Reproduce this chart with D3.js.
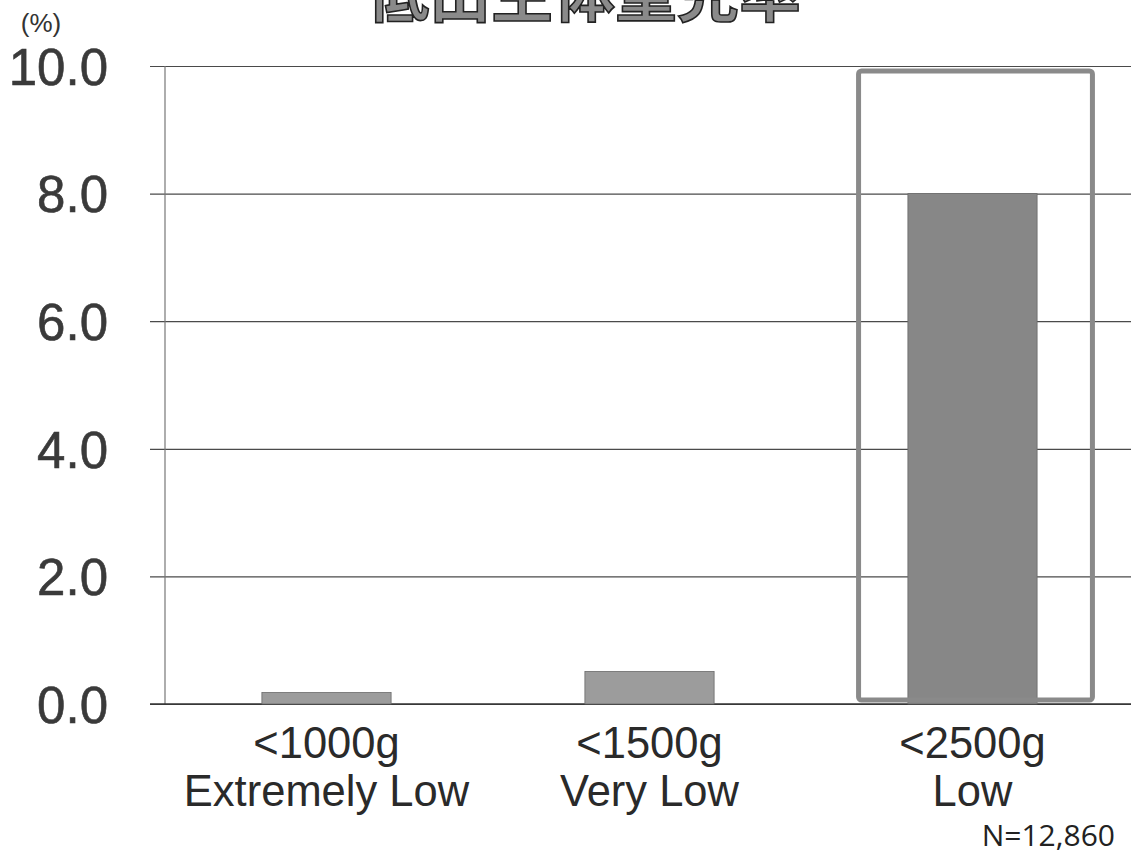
<!DOCTYPE html>
<html>
<head>
<meta charset="utf-8">
<script src="https://cdn.jsdelivr.net/npm/d3@7"></script>
<style>
  html, body { margin: 0; padding: 0; background: #fff; }
  svg { display: block; }
</style>
</head>
<body>
<svg id="chart" width="1131" height="856"></svg>
<script>
// Low birth weight rates by weight class (%)
const categories = ["<1000g", "<1500g", "<2500g"];
const classNames = ["Extremely Low", "Very Low", "Low"];
const rates = [0.18, 0.51, 8.0];
const yTicks = [0, 2, 4, 6, 8, 10];
const highlighted = "<2500g";
const title = "低出生体重児率";
const unitLabel = "(%)";
const sampleNote = "N=12,860";

const svg = d3.select("#chart");

const x = d3.scaleBand()
  .domain(categories)
  .range([165, 1134])
  .paddingInner(0.6)
  .paddingOuter(0.3);

const y = d3.scaleLinear()
  .domain([0, 10])
  .range([704, 66]);

// Title (runs off the top edge)
svg.append("text")
  .attr("x", 584)
  .attr("y", 17)
  .attr("text-anchor", "middle")
  .attr("font-family", "'Noto Sans CJK JP', sans-serif")
  .attr("font-weight", "bold")
  .attr("font-size", 62)
  .attr("fill", "#8a8a8a")
  .attr("stroke", "#222")
  .attr("stroke-width", 1.6)
  .text(title);

// Unit label
svg.append("text")
  .attr("x", 41)
  .attr("y", 32)
  .attr("text-anchor", "middle")
  .attr("font-family", "'Liberation Sans', Arial, sans-serif")
  .attr("font-size", 26)
  .attr("fill", "#333")
  .text(unitLabel);

// Gridlines with outward ticks
const yAxis = d3.axisLeft(y)
  .tickValues(yTicks)
  .tickSize(-(1131 - 165))
  .tickFormat(d3.format(".1f"));

const gAxis = svg.append("g")
  .attr("transform", "translate(165,0)")
  .call(yAxis);

gAxis.select(".domain").remove();
gAxis.selectAll(".tick line")
  .attr("x1", -15)
  .attr("stroke", "#4a4a4a")
  .attr("stroke-width", 1.2);
gAxis.selectAll(".tick text")
  .attr("x", -57)
  .attr("dy", "0.36em")
  .attr("font-family", "'Liberation Sans', Arial, sans-serif")
  .attr("font-size", 51)
  .attr("fill", "#3a3a3a")
  .attr("stroke", "#3a3a3a")
  .attr("stroke-width", 0.6);

// Vertical axis line
svg.append("line")
  .attr("x1", 165).attr("x2", 165)
  .attr("y1", y(10)).attr("y2", y(0))
  .attr("stroke", "#777")
  .attr("stroke-width", 1.2);

// Baseline
svg.append("line")
  .attr("x1", 150).attr("x2", 1131)
  .attr("y1", y(0)).attr("y2", y(0))
  .attr("stroke", "#333")
  .attr("stroke-width", 1.6);

// Bars
svg.append("g")
  .selectAll("rect")
  .data(categories)
  .join("rect")
  .attr("x", d => x(d))
  .attr("width", x.bandwidth())
  .attr("y", (d, i) => y(rates[i]))
  .attr("height", (d, i) => y(0) - y(rates[i]))
  .attr("fill", d => d === highlighted ? "#878787" : "#9c9c9c")
  .attr("stroke", "#6a6a6a")
  .attr("stroke-width", 0.8);

// Highlight frame around the low birth weight column
const hx = x(highlighted) + x.bandwidth() / 2 + 3;
const halfW = x.step() * 0.362;
svg.append("rect")
  .attr("x", hx - halfW)
  .attr("y", y(10) + 5)
  .attr("width", halfW * 2)
  .attr("height", y(0) - y(10) - 9)
  .attr("rx", 3)
  .attr("fill", "none")
  .attr("stroke", "#8a8a8a")
  .attr("stroke-width", 5);

// Category labels (two lines)
const labels = svg.append("g")
  .attr("font-family", "'Liberation Sans', Arial, sans-serif")
  .attr("font-size", 43.5)
  .attr("fill", "#2a2a2a")
  .attr("text-anchor", "middle");

labels.selectAll("text.cat")
  .data(categories)
  .join("text")
  .attr("class", "cat")
  .attr("x", d => x(d) + x.bandwidth() / 2)
  .attr("y", 758)
  .text(d => d);

labels.selectAll("text.cls")
  .data(classNames)
  .join("text")
  .attr("class", "cls")
  .attr("x", (d, i) => x(categories[i]) + x.bandwidth() / 2)
  .attr("y", 806)
  .text(d => d);

// Sample size note
svg.append("text")
  .attr("x", 1115)
  .attr("y", 846)
  .attr("text-anchor", "end")
  .attr("font-family", "'Open Sans', 'Noto Sans', sans-serif")
  .attr("font-size", 30)
  .attr("fill", "#222")
  .text(sampleNote);
</script>
</body>
</html>
